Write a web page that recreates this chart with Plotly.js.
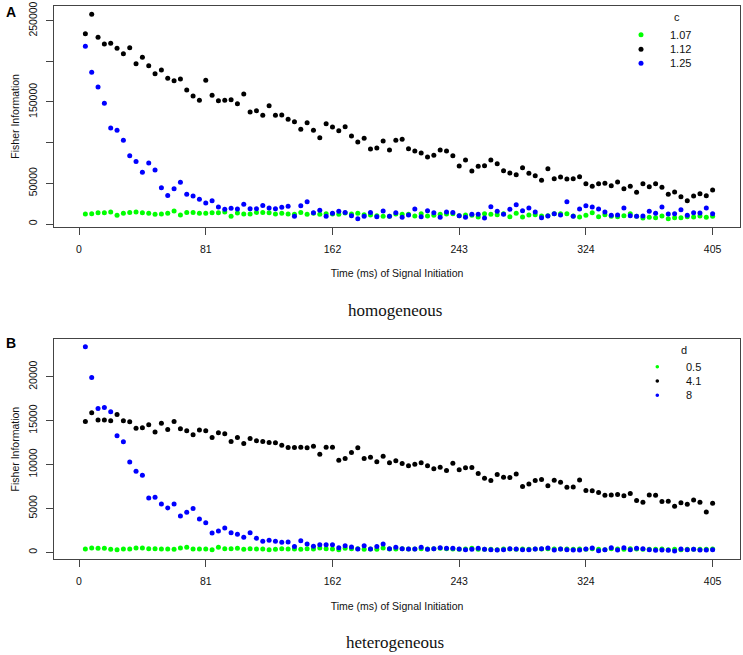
<!DOCTYPE html>
<html><head><meta charset="utf-8">
<script src="https://cdn.plot.ly/plotly-3.0.1.min.js"></script>
<style>html,body{margin:0;padding:0;background:#fff}#chart{width:743px;height:655px}</style>
</head><body><div id="chart"></div>
<script>
// time (ms) of signal initiation
const timeMs = [4.05,8.1,12.15,16.2,20.25,24.3,28.35,32.4,36.45,40.5,
44.55,48.6,52.65,56.7,60.75,64.8,68.85,72.9,76.95,81,
85.05,89.1,93.15,97.2,101.25,105.3,109.35,113.4,117.45,121.5,
125.55,129.6,133.65,137.7,141.75,145.8,149.85,153.9,157.95,162,
166.05,170.1,174.15,178.2,182.25,186.3,190.35,194.4,198.45,202.5,
206.55,210.6,214.65,218.7,222.75,226.8,230.85,234.9,238.95,243,
247.05,251.1,255.15,259.2,263.25,267.3,271.35,275.4,279.45,283.5,
287.55,291.6,295.65,299.7,303.75,307.8,311.85,315.9,319.95,324,
328.05,332.1,336.15,340.2,344.25,348.3,352.35,356.4,360.45,364.5,
368.55,372.6,376.65,380.7,384.75,388.8,392.85,396.9,400.95,405];
const xTicks = [0,81,162,243,324,405];

// Panel A: homogeneous, legend "c"
const homoTitle = 'c';
const homoLabels = ['1.07','1.12','1.25'];
const homoC107 = [12300,12700,13900,13900,14800,10700,13100,14300,14800,13900,
13100,11900,12300,13100,16000,11100,14300,14300,13100,13100,
13900,13900,14800,9400,13500,12300,12300,14300,14300,13900,
12300,13100,12300,11900,14300,11900,13100,11900,12700,12300,
11900,13500,12300,13100,11500,11100,10200,9400,9400,12300,
11900,11900,9800,12700,9800,10700,11900,12300,12700,10200,
11100,10700,8600,12700,11900,11500,12700,9000,13100,8600,
11100,11500,9800,10200,12700,12700,12700,9800,8600,10700,
13900,9000,11500,9400,9000,10200,12700,9400,7400,8200,
7800,9800,6600,7800,7800,9000,8600,9800,8200,9400];
const homoC112 = [234000,257800,229500,221300,222100,216000,209400,216800,197100,204900,
194700,184800,189300,179100,176200,178300,164700,157400,152000,176600,
158200,151600,152000,152900,147900,159800,137700,139300,133600,145500,
133600,134000,128700,125800,116400,124600,115200,106100,123400,119200,
114700,119700,108200,100800,105300,92200,93400,102000,91000,102900,
104100,92600,89700,87300,82400,84400,91000,89700,84000,71300,
78700,65200,70900,71700,78700,74200,65600,62700,60700,69300,
62300,59400,53700,68000,55700,57800,55300,55700,58200,49600,
46300,49600,50000,47100,51600,43400,46300,38900,49600,45900,
49600,45100,36500,39300,33600,28700,34400,37300,34800,41800];
const homoC125 = [218400,186500,168400,148300,118000,115200,102900,84000,77000,63500,
75000,66400,44700,35200,43400,51200,36500,34400,30300,25800,
28700,20900,18000,19300,18400,24200,18900,18900,22900,19700,
18900,20500,21700,9400,22500,27500,13900,16800,9400,13100,
15600,14300,10200,6600,9400,14300,9000,16000,9400,13900,
8200,11100,18400,9000,16400,13900,8200,14800,14300,10200,
8200,11900,11900,7400,21300,15600,11900,18000,23800,16400,
19700,14800,7800,9800,12700,11100,27500,9400,18400,22500,
20900,18400,14800,10700,11100,19700,10200,9400,9800,15600,
13100,20900,12300,12700,17600,10700,13900,13500,19700,12700];
const yTicksA = [0,50000,100000,150000,200000,250000];
const yTickTextA = ['0','50000','','150000','','250000'];

// Panel B: heterogeneous, legend "d"
const heteroTitle = 'd';
const heteroLabels = ['0.5','4.1','8'];
const heteroD05 = [380,490,460,460,340,300,380,380,490,490,
420,420,380,380,340,490,570,380,380,380,
300,570,420,420,460,340,420,380,380,300,
340,420,380,380,340,420,380,490,420,380,
300,460,420,420,340,380,340,490,380,380,
420,380,380,420,380,420,460,420,380,340,
380,460,340,340,340,300,380,380,340,380,
340,380,380,420,380,380,380,340,380,340,
420,340,300,420,380,340,420,380,340,340,
340,380,300,340,300,340,340,340,340,380];
const heteroD41 = [14900,15890,15060,15060,14980,15700,14980,14870,14140,14180,
14520,13690,14710,13990,14900,14070,13840,13380,13920,13840,
13080,13610,13500,12620,13080,12390,12960,12700,12620,12510,
12470,12200,11940,11940,11980,11900,12090,11180,11980,11980,
10490,10680,11370,11900,10680,10840,10320,10950,10190,10420,
10110,9850,10040,10190,9850,9510,9700,9310,10150,9390,
9620,9660,8970,8440,8170,8860,8550,8520,8930,7490,
7790,8170,8290,7570,8210,7980,7410,7450,8250,7030,
7000,6810,6500,6540,6580,6430,6690,5890,5700,6540,
6500,5780,5820,5250,5660,5470,5970,5700,4600,5590];
const heteroD8 = [23420,19920,16390,16500,16010,13270,12580,10300,9240,8780,
6200,6270,5510,5060,5510,4140,4560,4980,3800,3380,
2210,2430,2780,2240,2050,1710,2240,1600,1250,1370,
1250,1140,1180,650,1330,950,680,870,870,870,
530,760,610,380,760,380,650,950,420,570,
420,380,380,570,340,420,530,460,460,380,
300,340,460,340,300,270,300,420,380,300,
300,380,420,490,270,380,300,270,270,380,
490,190,300,530,270,530,300,460,420,300,
230,270,230,150,380,300,340,270,270,300];
const yTicksB = [0,5000,10000,15000,20000];

const seriesColors = ['#00FF00','#000000','#0000FF'];

const W = 743, H = 655;
const px = v => v / W;
const py = v => 1 - v / H;
const sans = 'Liberation Sans, Arial, sans-serif';
const serif = 'Liberation Serif, Times New Roman, serif';

function mk(y, i, xa, ya, sz) {
  return {x: timeMs, y: y, type: 'scatter', mode: 'markers', xaxis: xa, yaxis: ya,
    marker: {color: seriesColors[i], size: sz, line: {width: 0}}, showlegend: false,
    hoverinfo: 'x+y'};
}
const data = [
  mk(homoC107, 0, 'x', 'y', 5), mk(homoC112, 1, 'x', 'y', 5), mk(homoC125, 2, 'x', 'y', 5),
  mk(heteroD05, 0, 'x2', 'y2', 5), mk(heteroD41, 1, 'x2', 'y2', 5), mk(heteroD8, 2, 'x2', 'y2', 5)
];

const axCommon = {
  showgrid: false, zeroline: false, showline: true, mirror: true,
  linecolor: '#444', linewidth: 1.3, ticks: 'outside', ticklen: 7, tickwidth: 1,
  tickcolor: '#444', tickfont: {family: sans, size: 10.5, color: '#111'}
};
const xTitle = {text: 'Time (ms) of Signal Initiation', font: {family: sans, size: 10.5, color: '#111'}, standoff: 16};
const yTitle = {text: 'Fisher Information', font: {family: sans, size: 10.5, color: '#111'}, standoff: 4};

const xDom = [px(54), px(740)];
const layout = {
  width: W, height: H, margin: {l: 0, r: 0, t: 0, b: 0},
  paper_bgcolor: '#fff', plot_bgcolor: '#fff', showlegend: false,
  xaxis: Object.assign({}, axCommon, {domain: xDom, range: [-16, 422.5], tickvals: xTicks,
    ticktext: xTicks.map(String), anchor: 'y', title: xTitle, ticklabelstandoff: 5}),
  yaxis: Object.assign({}, axCommon, {domain: [py(226.7), py(6)], range: [-3300, 268000],
    tickvals: yTicksA, ticktext: yTickTextA, tickangle: -90, anchor: 'x', title: yTitle, ticklabelstandoff: 5}),
  xaxis2: Object.assign({}, axCommon, {domain: xDom, range: [-16, 422.5], tickvals: xTicks,
    ticktext: xTicks.map(String), anchor: 'y2', title: xTitle, ticklabelstandoff: 5}),
  yaxis2: Object.assign({}, axCommon, {domain: [py(559), py(339.3)], range: [-760, 24260],
    tickvals: yTicksB, ticktext: yTicksB.map(String), tickangle: -90, anchor: 'x2', title: yTitle, ticklabelstandoff: 5}),
  annotations: [], shapes: []
};

function ann(text, x, y, font, xanchor) {
  layout.annotations.push({text: text, x: px(x), y: py(y), xref: 'paper', yref: 'paper',
    showarrow: false, xanchor: xanchor || 'center', yanchor: 'middle', font: font});
}
ann('<b>A</b>', 10.5, 12.5, {family: sans, size: 14, color: '#000'});
ann('<b>B</b>', 10.5, 342.5, {family: sans, size: 14, color: '#000'});
ann('homogeneous', 395, 310.5, {family: serif, size: 17, color: '#111'});
ann('heterogeneous', 395, 642, {family: serif, size: 17, color: '#111'});

function legend(title, labels, titleX, titleY, mX, textX, rows, msize) {
  ann(title, titleX, titleY, {family: sans, size: 11, color: '#111'});
  labels.forEach((lab, i) => {
    ann(lab, textX, rows[i], {family: sans, size: 11, color: '#111'}, 'left');
    const r = msize / 2;
    layout.shapes.push({type: 'circle', xref: 'paper', yref: 'paper',
      x0: px(mX - r), x1: px(mX + r), y0: py(rows[i] + r), y1: py(rows[i] - r),
      fillcolor: seriesColors[i], line: {width: 0}});
  });
}
legend(homoTitle, homoLabels, 677, 17.5, 641, 667.5, [34.7, 49.3, 63.3], 5);
legend(heteroTitle, heteroLabels, 684.3, 350, 657.3, 684, [366.7, 381, 395.3], 3.6);

Plotly.newPlot('chart', data, layout, {displayModeBar: false, staticPlot: true});
</script>
</body></html>
